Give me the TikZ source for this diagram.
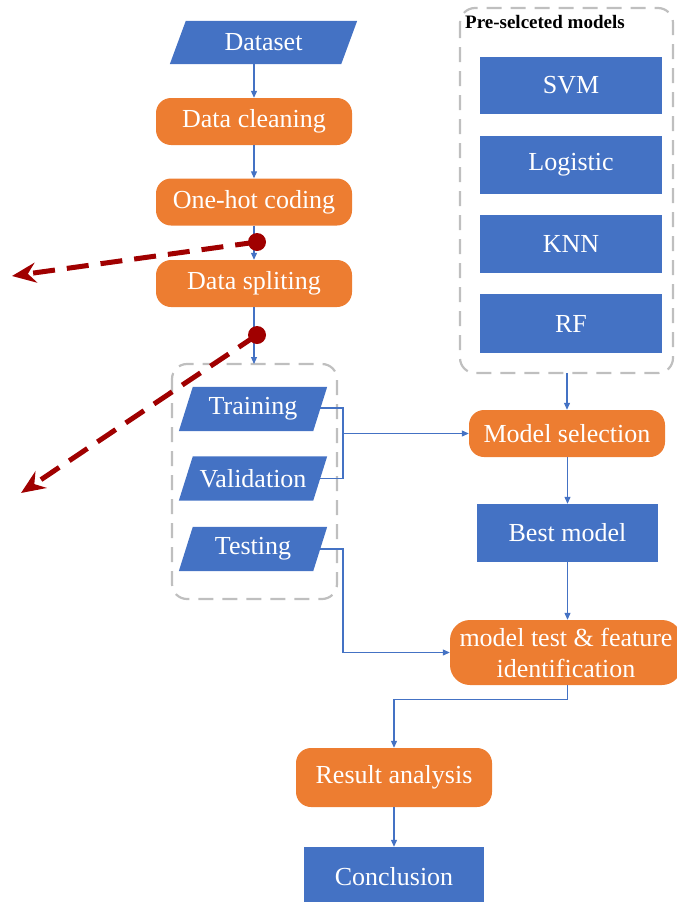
\documentclass[tikz,border=0pt]{standalone}
\usepackage{fontspec}
\setmainfont{Liberation Serif}
\usetikzlibrary{arrows.meta,calc,backgrounds}
\definecolor{cblue}{HTML}{4472C4}
\definecolor{corange}{HTML}{ED7D31}
\definecolor{cgray}{HTML}{BFBFBF}
\definecolor{cred}{RGB}{160,0,0}
\tikzset{
  txt/.style={text=white, font=\fontsize{26}{31}\selectfont, inner sep=0pt, align=center},
  procbox/.style={txt, fill=corange, rounded corners=15pt},
  bluebox/.style={txt, fill=cblue},
  iobox/.style={txt},
  conn/.style={draw=cblue, line width=1.1pt, -{Triangle[length=7pt,width=6pt]}},
  plainconn/.style={draw=cblue, line width=1.1pt},
  grpbox/.style={draw=cgray, line width=2.2pt, dash pattern=on 15pt off 9pt, rounded corners=15pt},
  redarrow/.style={draw=cred, line width=5pt, dash pattern=on 22pt off 12pt, -{Stealth[length=24pt,width=20pt,inset=8pt]}},
  reddot/.style={circle, fill=cred, minimum size=18pt, inner sep=0pt}
}
\newcommand{\parafill}[2]{%
  \begin{pgfonlayer}{background}
  \fill[cblue] ($(#1.north west)+(#2,0)$) -- (#1.north east) -- ($(#1.south east)-(#2,0)$) -- (#1.south west) -- cycle;
  \end{pgfonlayer}}
\begin{document}
\begin{tikzpicture}[x=1pt,y=-1pt]
\useasboundingbox (0,0) rectangle (677,902);
% left column
\node[iobox, minimum width=187pt, minimum height=43pt] (ds) at (263.5,42.5) {Dataset};
\parafill{ds}{16pt}
\node[procbox, minimum width=196pt, minimum height=47pt] (dc) at (254,121.5) {Data cleaning};
\node[procbox, minimum width=196pt, minimum height=47pt] (oh) at (254,202) {One-hot coding};
\node[procbox, minimum width=196pt, minimum height=47pt] (sp) at (254,283.5) {Data spliting};
% split group
\draw[grpbox] (172,364) rectangle (337,599);
\coordinate (tboxtop) at (254,364);
\node[iobox, minimum width=148pt, minimum height=44pt] (tr) at (253,409) {Training};
\parafill{tr}{14pt}
\node[iobox, minimum width=148pt, minimum height=44pt] (va) at (253,478.5) {Validation};
\parafill{va}{14pt}
\node[iobox, minimum width=148pt, minimum height=44pt] (te) at (253,549) {Testing};
\parafill{te}{14pt}
% pre-selected models
\draw[grpbox] (460,8) rectangle (673,373);
\node[anchor=west, inner sep=0pt, font=\fontsize{19}{22}\selectfont\bfseries] (pl) at (465,22) {Pre-selceted models};
\node[bluebox, minimum width=182pt, minimum height=57pt] (svm) at (571,85.5) {SVM};
\node[bluebox, minimum width=182pt, minimum height=58pt] (lg) at (571,165) {Logistic};
\node[bluebox, minimum width=182pt, minimum height=58pt] (knn) at (571,244) {KNN};
\node[bluebox, minimum width=182pt, minimum height=59pt] (rf) at (571,323.5) {RF};
\coordinate (pbot) at (567,373);
% right column
\node[procbox, minimum width=196pt, minimum height=47pt] (ms) at (567,433.5) {Model selection};
\node[bluebox, minimum width=181pt, minimum height=58pt] (bm) at (567.5,533) {Best model};
\node[procbox, rounded corners=20pt, minimum width=232pt, minimum height=65pt] (mt) at (566,652.5) {model test \& feature\\identification};
\node[procbox, minimum width=196pt, minimum height=59pt] (ra) at (394,777.5) {Result analysis};
\node[bluebox, minimum width=180pt, minimum height=60pt] (cc) at (394,877) {Conclusion};
% connectors
\draw[conn] (dc.north |- ds.south) -- (dc.north);
\draw[conn] (dc.south) -- (oh.north);
\draw[conn] (oh.south) -- (sp.north);
\draw[conn] (sp.south) -- (tboxtop);
\coordinate (j1) at (343,433.5);
\draw[plainconn] ($(tr.east)+(-7,-1)$) -| (j1);
\draw[plainconn] ($(va.east)+(-7,0)$) -| (j1);
\draw[conn] (j1) -- (ms.west);
\draw[conn] ($(te.east)+(-7,0)$) -| ($(j1)+(0,219)$) -- (mt.west);
\draw[conn] (pbot) -- (pbot |- ms.north);
\draw[conn] (ms.south -| bm.south) -- (bm.north);
\draw[conn] (bm.south) -- (bm.south |- mt.north);
\draw[conn] (bm.south |- mt.south) -- ($(bm.south |- mt.south)+(0,14)$) -| (ra.north);
\draw[conn] (ra.south) -- (cc.north);
% red dashed arrows
\node[reddot] (r1) at (257,242) {};
\coordinate (r1e) at (12,276);
\draw[redarrow] (r1.center) -- (r1e);
\node[reddot] (r2) at (257,335) {};
\coordinate (r2e) at (21,493);
\draw[redarrow] (r2.center) -- (r2e);
\end{tikzpicture}
\end{document}
